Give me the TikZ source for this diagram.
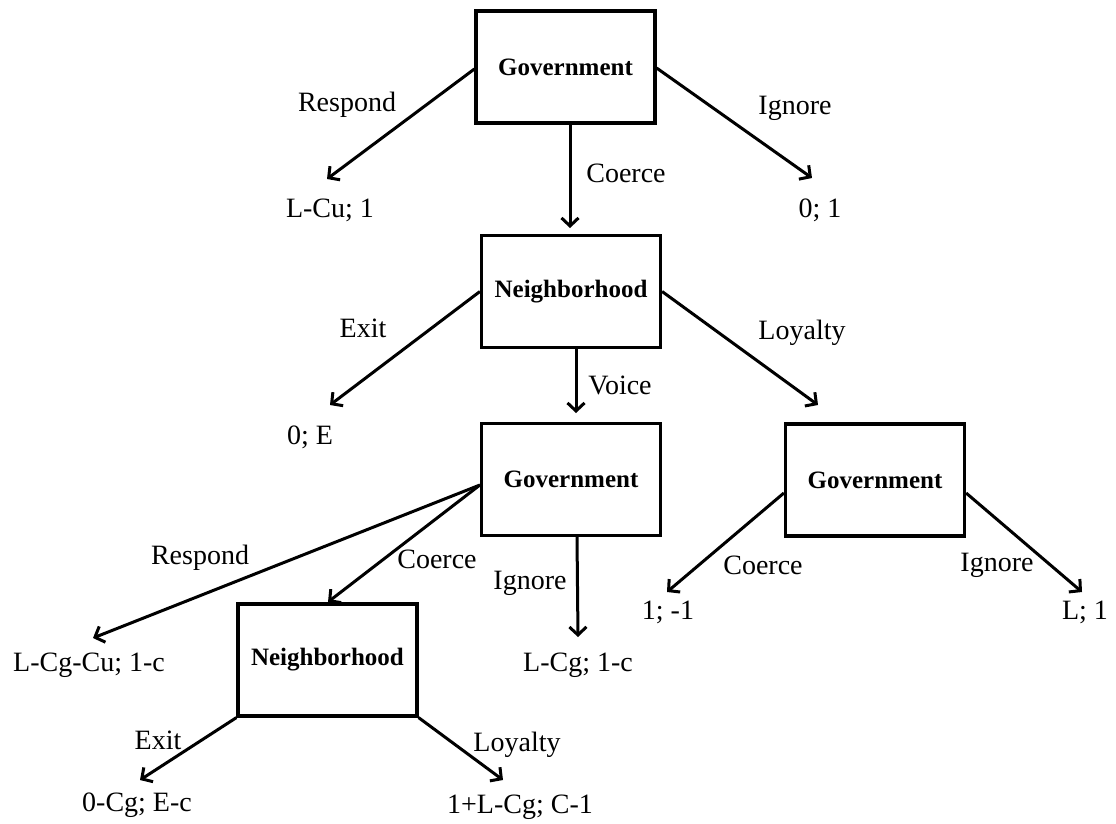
\documentclass[tikz,border=0pt]{standalone}
\usepackage{fontspec}
\setmainfont{Liberation Serif}
\usetikzlibrary{arrows.meta}
\begin{document}
\begin{tikzpicture}[x=1pt,y=-1pt,
  player/.style={draw, line width=3.2pt, minimum width=179pt, minimum height=112pt, inner sep=0pt, font=\fontsize{25}{30}\selectfont\bfseries},
  lbl/.style={inner sep=0pt, font=\fontsize{28}{33}\selectfont},
  edge/.style={line width=3pt, -{Straight Barb[length=8pt,width=17pt]}}
]
\useasboundingbox (0,0) rectangle (1116,823);
% decision nodes
\node[player] (G1) at (565.5,67) {Government};
\node[player] (N1) at (571,291.5) {Neighborhood};
\node[player] (G2) at (571,479.5) {Government};
\node[player] (N2) at (327.5,660) {Neighborhood};
\node[player] (G3) at (875,480) {Government};
% arrow ends
\coordinate (t1) at (327,179);
\coordinate (t2) at (812,178);
\coordinate (t3) at (570,228);
\coordinate (t4) at (330,405);
\coordinate (t5) at (576,413);
\coordinate (t6) at (818,405);
\coordinate (t7) at (93,638);
\coordinate (t8) at (328,602);
\coordinate (t9) at (578,637);
\coordinate (t10) at (140,780);
\coordinate (t11) at (503,780);
\coordinate (t12) at (667,592);
\coordinate (t13) at (1082,592);
% payoffs
\node[lbl] (p1) at (330,210) {L-Cu; 1};
\node[lbl] (p2) at (820,210) {0; 1};
\node[lbl] (p3) at (310,437) {0; E};
\node[lbl] (p4) at (89,665) {L-Cg-Cu; 1-c};
\node[lbl] (p5) at (578,665) {L-Cg; 1-c};
\node[lbl] (p6) at (137,805) {0-Cg; E-c};
\node[lbl] (p7) at (520,807) {1+L-Cg; C-1};
\node[lbl] (p8) at (668,612) {1; -1};
\node[lbl] (p9) at (1085,612) {L; 1};
% action labels
\node[lbl] (a1) at (347,105) {Respond};
\node[lbl] (a2) at (795,108) {Ignore};
\node[lbl] (a3) at (626,173) {Coerce};
\node[lbl] (a4) at (363,328) {Exit};
\node[lbl] (a5) at (620,385) {Voice};
\node[lbl] (a6) at (802,333) {Loyalty};
\node[lbl] (a7) at (200,558) {Respond};
\node[lbl] (a8) at (437,559) {Coerce};
\node[lbl] (a9) at (530,583) {Ignore};
\node[lbl] (a10) at (158,740) {Exit};
\node[lbl] (a11) at (517,745) {Loyalty};
\node[lbl] (a12) at (763,565) {Coerce};
\node[lbl] (a13) at (997,565) {Ignore};
% connectors
\draw[edge] ([yshift=-2pt]G1.west) -- (t1);
\draw[edge] ([yshift=-1pt]G1.east) -- (t2);
\draw[edge] ([xshift=4.5pt]G1.south) -- (t3);
\draw[edge] (N1.west) -- (t4);
\draw[edge] ([xshift=5pt]N1.south) -- (t5);
\draw[edge] (N1.east) -- (t6);
\draw[edge] ([yshift=-5.5pt]G2.west) -- (t7);
\draw[edge] ([yshift=-5.5pt]G2.west) -- (t8);
\draw[edge] ([xshift=6pt]G2.south) -- (t9);
\draw[edge] (N2.south west) -- (t10);
\draw[edge] (N2.south east) -- (t11);
\draw[edge] ([yshift=-13pt]G3.west) -- (t12);
\draw[edge] ([yshift=-13pt]G3.east) -- (t13);
\end{tikzpicture}
\end{document}
